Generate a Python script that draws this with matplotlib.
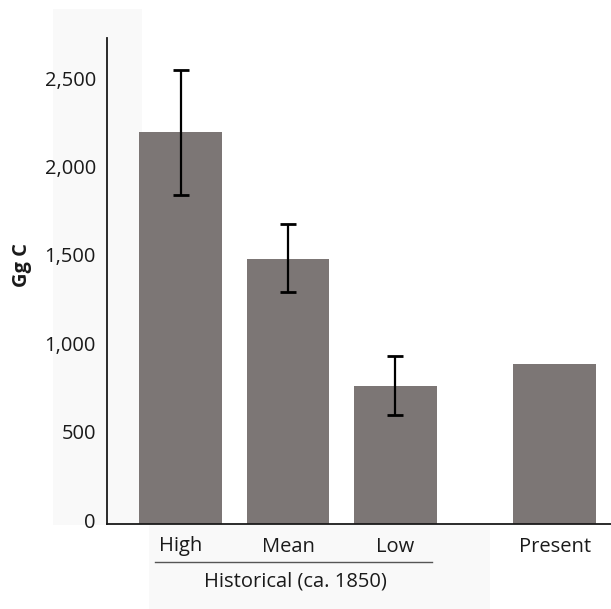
import matplotlib
matplotlib.use("Agg")
import matplotlib.pyplot as plt
import matplotlib.transforms as mtransforms
from matplotlib.patches import Rectangle

categories = ["High", "Mean", "Low", "Present"]
values = [2215, 1500, 780, 905]
err_upper = [2568, 1697, 950, None]
err_lower = [1861, 1312, 617, None]
group_label = "Historical (ca. 1850)"
y_label = "Gg C"
yticks = [0, 500, 1000, 1500, 2000, 2500]

plt.rcParams['font.family'] = ['Open Sans', 'DejaVu Sans']

W, H = 611, 609
fig = plt.figure(figsize=(W / 100, H / 100), dpi=100)

# light background panels
fig.patches.append(Rectangle((53 / W, 1 - 525 / H), (142 - 53) / W, (525 - 9) / H,
                             transform=fig.transFigure, facecolor="#f9f9f9",
                             edgecolor="none", zorder=-5))
fig.patches.append(Rectangle((149 / W, 0), (490 - 149) / W, (609 - 525) / H,
                             transform=fig.transFigure, facecolor="#f9f9f9",
                             edgecolor="none", zorder=-5))

ax = fig.add_axes([107 / W, (609 - 524) / H, (611 - 107) / W, (524 - 38) / H])
ax.patch.set_visible(False)

xpos = [0, 1, 2, 3.48]
bar_color = "#7c7675"
ax.bar(xpos, values, width=0.772, color=bar_color, zorder=2)

for x, v, up, lo in zip(xpos, values, err_upper, err_lower):
    if up is None:
        continue
    ax.errorbar([x], [v], yerr=[[v - lo], [up - v]], fmt="none", ecolor="black",
                elinewidth=1.6, capsize=5.5, capthick=2, zorder=3)

ax.set_xlim(-0.684, 4.005)
ax.set_ylim(0, 2749)

for s in ["top", "right"]:
    ax.spines[s].set_visible(False)
ax.spines["left"].set_linewidth(1.3)
ax.spines["bottom"].set_linewidth(1.3)
ax.spines["left"].set_color("#1a1a1a")
ax.spines["bottom"].set_color("#1a1a1a")
ax.spines["bottom"].set_zorder(4)

ax.set_yticks(yticks)
ax.set_yticklabels([f"{t:,}" for t in yticks], fontsize=14.5, color="#1a1a1a")
ax.tick_params(axis="y", length=0, pad=8)
shift = mtransforms.ScaledTranslation(0, 4 / 100, fig.dpi_scale_trans)
for lbl in ax.get_yticklabels():
    lbl.set_transform(lbl.get_transform() + shift)
ax.set_xticks(xpos)
ax.set_xticklabels(categories, fontsize=14.5, color="#1a1a1a")
ax.tick_params(axis="x", length=0, pad=9)

ax.set_ylabel(y_label, fontsize=14.5, fontweight="bold", color="#1a1a1a")
ax.yaxis.set_label_coords(-0.149, 0.533)

trans = mtransforms.blended_transform_factory(ax.transData, ax.transAxes)
ax.plot([-0.237, 2.34], [-0.078, -0.078], transform=trans, color="#555555",
        linewidth=1.0, clip_on=False)
ax.text(1.07, -0.119, group_label, transform=trans, ha="center", va="center",
        fontsize=14.5, color="#1a1a1a")

fig.savefig("out.png", dpi=100)
